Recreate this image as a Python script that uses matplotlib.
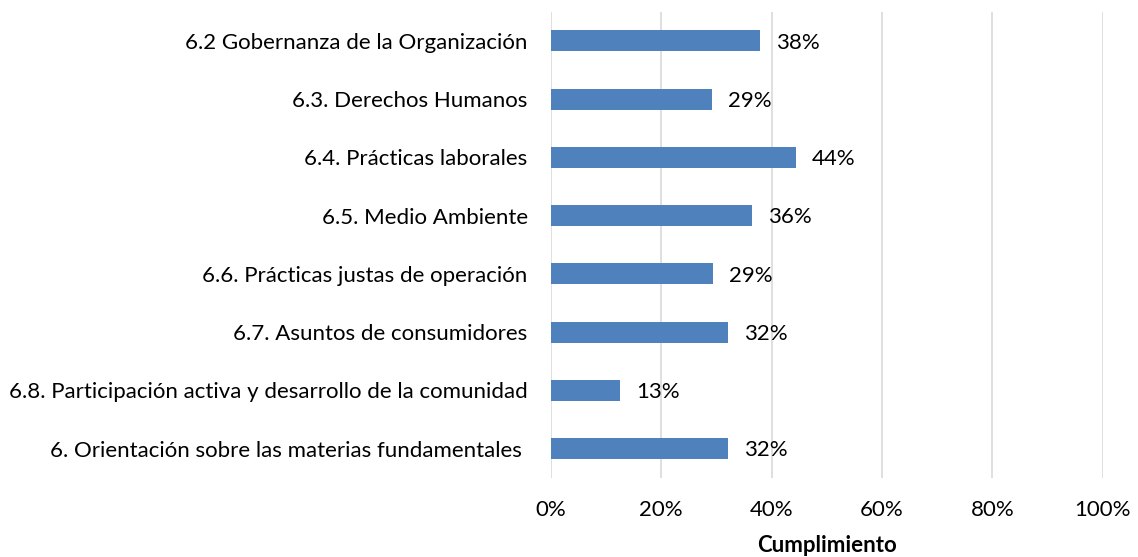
import matplotlib.pyplot as plt
from matplotlib.ticker import PercentFormatter

categories = [
    "6.2 Gobernanza de la Organización",
    "6.3. Derechos Humanos",
    "6.4. Prácticas laborales",
    "6.5. Medio Ambiente",
    "6.6. Prácticas justas de operación",
    "6.7. Asuntos de consumidores",
    "6.8. Participación activa y desarrollo de la comunidad",
    "6. Orientación sobre las materias fundamentales ",
]
values = [0.38, 0.292, 0.444, 0.364, 0.294, 0.322, 0.126, 0.322]
xticks = [0, 0.2, 0.4, 0.6, 0.8, 1.0]

plt.rcParams['font.family'] = ['Lato', 'DejaVu Sans']
fs = 16

fig = plt.figure(figsize=(11.38, 5.57), dpi=100)
ax = fig.add_axes([0.4838, 0.1425, 0.4854, 0.8365])

pos = list(range(len(categories)))
ax.barh(pos, values, height=0.36, color='#4F81BD', zorder=3)
for p, v in zip(pos, values):
    ax.text(v + 0.029, p + 0.03, f"{round(v * 100):.0f}%", va='center', ha='left',
            fontsize=fs, color='black')

ax.set_ylim(len(categories) - 0.5, -0.5)
ax.set_xlim(0, 1.0)
ax.set_yticks(pos)
ax.set_yticklabels(categories, fontsize=fs)
ax.set_xticks(xticks)
ax.xaxis.set_major_formatter(PercentFormatter(1.0, decimals=0))
ax.tick_params(axis='x', labelsize=fs, length=0, pad=16)
ax.tick_params(axis='y', length=0, pad=16.5)
ax.grid(axis='x', color='#D9D9D9', linewidth=1.2, zorder=0)
for s in ax.spines.values():
    s.set_visible(False)
ax.set_xlabel("Cumplimiento", fontsize=fs, fontweight='bold', labelpad=11)

fig.savefig("out.png", dpi=100)
